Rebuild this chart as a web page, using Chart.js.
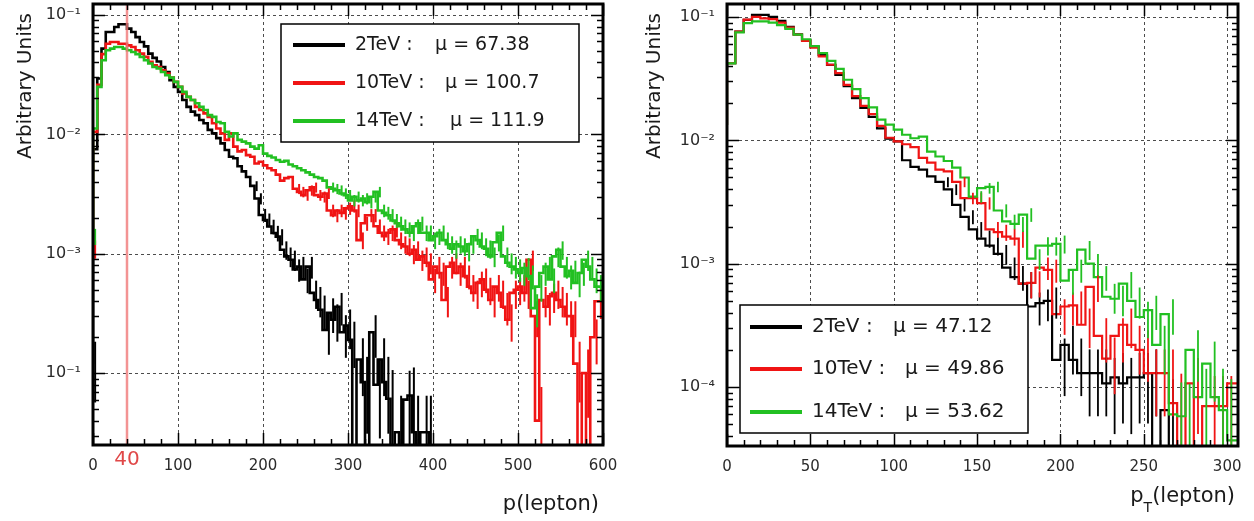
<!DOCTYPE html>
<html>
<head>
<meta charset="utf-8">
<script src="https://cdn.jsdelivr.net/npm/chart.js@4.4.1/dist/chart.umd.min.js"></script>
<style>
html, body { margin: 0; padding: 0; background: #fff; }
#wrap { position: relative; width: 1254px; height: 521px; }
.panel { position: absolute; top: 0; width: 627px; height: 521px; }
</style>
</head>
<body>
<div id="wrap">
  <div class="panel" style="left:0"><canvas id="pChart" width="627" height="521"></canvas></div>
  <div class="panel" style="left:627px"><canvas id="ptChart" width="627" height="521"></canvas></div>
</div>
<script>
// series names and means read from the legends
const energies = ['2TeV', '10TeV', '14TeV'];
const pMeans = ['67.38', '100.7', '111.9'];
const ptMeans = ['47.12', '49.86', '53.62'];
const colors = ['#000000', '#f01414', '#22c022'];

// p(lepton): 5 GeV bins from 0 to 600
const pBinWidth = 5;
const pBlack = [
  0.00012, 0.0075, 0.0294, 0.0523, 0.072, 0.072, 0.0793, 0.0836, 0.0836, 0.0769,
  0.072, 0.0653, 0.0594, 0.0546, 0.0475, 0.0437, 0.0408, 0.0367, 0.0333, 0.0284,
  0.025, 0.0227, 0.0194, 0.017, 0.0155, 0.0145, 0.0132, 0.0124, 0.0109, 0.0102,
  0.0093, 0.0084, 0.0074, 0.0065, 0.0063, 0.0054, 0.0049, 0.0044, 0.0037, 0.0029,
  0.00211, 0.00192, 0.00169, 0.00149, 0.00139, 0.00108, 0.00095, 0.00089, 0.00074, 0.00078,
  0.00061, 0.00078, 0.00047, 0.00041, 0.00034, 0.00023, 0.00032, 0.00028, 0.00036, 0.00022,
  0.00025, 0.00019, 0, 0.00013, 0.000084, 0, 0.00022, 0.00008, 0.00013, 0.000084,
  0.000061, 0, 0.000032, 0, 0.00006, 0.000065, 0.000032, 0, 0.000032, 0.000032,
  0, 0, 0, 0, 0, 0, 0, 0, 0, 0,
  0, 0, 0, 0, 0, 0, 0, 0, 0, 0,
  0, 0, 0, 0, 0, 0, 0, 0, 0, 0,
  0, 0, 0, 0, 0, 0, 0, 0, 0, 0
];
const pRed = [
  0.0011, 0.0105, 0.026, 0.047, 0.0575, 0.0594, 0.0594, 0.0575, 0.0575, 0.0557,
  0.054, 0.0506, 0.0475, 0.0446, 0.0405, 0.0379, 0.0367, 0.0344, 0.0323, 0.0299,
  0.0275, 0.025, 0.022, 0.0206, 0.0194, 0.017, 0.016, 0.015, 0.014, 0.0124,
  0.0112, 0.0102, 0.009, 0.0102, 0.0079, 0.0072, 0.0074, 0.0067, 0.0065, 0.0057,
  0.0059, 0.0055, 0.0052, 0.005, 0.0046, 0.0041, 0.0043, 0.0044, 0.0035, 0.0033,
  0.0031, 0.0034, 0.0036, 0.0031, 0.003, 0.0032, 0.0023, 0.0021, 0.0023, 0.0022,
  0.0024, 0.0025, 0.0023, 0.0013, 0.0018, 0.0021, 0.0021, 0.0017, 0.0015, 0.0014,
  0.0015, 0.0016, 0.0013, 0.0012, 0.00115, 0.001, 0.00108, 0.00089, 0.00095, 0.00084,
  0.00061, 0.00078, 0.00069, 0.00041, 0.00078, 0.00084, 0.00069, 0.00078, 0.00065, 0.00053,
  0.00047, 0.00057, 0.00061, 0.0005, 0.00041, 0.00053, 0.00047, 0.00036, 0.00028, 0.00047,
  0.0005, 0.00053, 0.00047, 0.00089, 0.0003, 0.00004, 0.00041, 0.00036, 0.00044, 0.00047,
  0.00041, 0.00036, 0.0003, 0.0003, 0.00012, 0, 0.0001, 0, 0.0002, 0.0004
];
const pGreen = [
  0.0014, 0.0112, 0.025, 0.0418, 0.0506, 0.0523, 0.054, 0.054, 0.0523, 0.0506,
  0.049, 0.047, 0.0446, 0.0418, 0.0392, 0.0367, 0.0356, 0.0333, 0.0313, 0.0299,
  0.0275, 0.025, 0.0227, 0.0206, 0.0194, 0.0182, 0.017, 0.016, 0.0145, 0.014,
  0.0127, 0.0124, 0.0105, 0.0096, 0.0102, 0.009, 0.0087, 0.0084, 0.0079, 0.0076,
  0.0081, 0.0069, 0.0066, 0.0064, 0.0061, 0.0059, 0.006, 0.0056, 0.0054, 0.0052,
  0.005, 0.0048, 0.0046, 0.0044, 0.0043, 0.0041, 0.0036, 0.0035, 0.0034, 0.0032,
  0.0031, 0.0028, 0.003, 0.0028, 0.0029, 0.0027, 0.003, 0.0033, 0.0023, 0.0022,
  0.0021, 0.0019, 0.0018, 0.0017, 0.0016, 0.0015, 0.0017, 0.0018, 0.0015, 0.0015,
  0.0013, 0.0014, 0.0015, 0.0013, 0.0012, 0.0011, 0.0012, 0.00115, 0.00105, 0.0012,
  0.0014, 0.0013, 0.00115, 0.0011, 0.00095, 0.00125, 0.0015, 0.00095, 0.00084, 0.00078,
  0.00074, 0.00069, 0.00076, 0.00065, 0.00035, 0.00053, 0.00069, 0.00078, 0.00061, 0.00095,
  0.00108, 0.00078, 0.00065, 0.00072, 0.00057, 0.00069, 0.00089, 0.00078, 0.00061, 0.00053
];
const pXTicks = [0, 100, 200, 300, 400, 500, 600];
const pYTicks = [1e-4, 1e-3, 1e-2, 1e-1];
const pYLabels = ['10⁻¹', '10⁻³', '10⁻²', '10⁻¹'];   // bottom label printed as in the original
const pCut = 40;
const pEvents = 30000;   // sample size estimated from the error bar lengths

// pT(lepton): 5 GeV bins from 0 to 310
const ptBinWidth = 5;
const ptBlack = [
  0.0133, 0.0422, 0.076, 0.0946, 0.104, 0.104, 0.1, 0.093, 0.083, 0.0724,
  0.065, 0.0575, 0.0492, 0.0409, 0.034, 0.0275, 0.022, 0.0183, 0.0155, 0.0125,
  0.0103, 0.0098, 0.0069, 0.0061, 0.0058, 0.0051, 0.0046, 0.004, 0.003, 0.0024,
  0.0019, 0.0016, 0.0014, 0.0012, 0.00093, 0.00078, 0.00069, 0.00045, 0.00048, 0.0005,
  0.000166, 0.00022, 0.000166, 0.00013, 0.00013, 0.00013, 0.000107, 0.00012, 0.000107, 0.00012,
  0.00012, 0.00013, 0, 0.000065, 0, 0, 0, 0, 0, 0, 0, 0
];
const ptRed = [
  0.0133, 0.0422, 0.076, 0.095, 0.1, 0.0976, 0.096, 0.09, 0.082, 0.072,
  0.064, 0.0565, 0.048, 0.041, 0.035, 0.0282, 0.0228, 0.019, 0.0163, 0.0131,
  0.0105, 0.0098, 0.0093, 0.0088, 0.0072, 0.0066, 0.0058, 0.0056, 0.0046, 0.0034,
  0.0034, 0.0031, 0.0019, 0.0018, 0.00166, 0.0016, 0.00069, 0.0007, 0.00093, 0.00089,
  0.00039, 0.00045, 0.00046, 0.00032, 0.00065, 0.00026, 0.00017, 0.00026, 0.00032, 0.00022,
  0.0002, 0.00013, 0.00013, 0.00013, 0.000074, 0, 0.000107, 0, 0.00007, 0.00007, 0.00007, 0.000107
];
const ptGreen = [
  0.0133, 0.042, 0.075, 0.089, 0.092, 0.092, 0.09, 0.086, 0.08, 0.072,
  0.066, 0.058, 0.051, 0.044, 0.038, 0.031, 0.026, 0.022, 0.0185, 0.0147,
  0.0134, 0.0122, 0.0111, 0.0104, 0.0107, 0.0081, 0.0074, 0.0068, 0.006, 0.005,
  0.0035, 0.0041, 0.0042, 0.0027, 0.0022, 0.0021, 0.0025, 0.0011, 0.0014, 0.0014,
  0.00145, 0.00073, 0.00089, 0.0013, 0.001, 0.00078, 0.00054, 0.00052, 0.00069, 0.0005,
  0.00037, 0.00042, 0.00022, 0.00039, 0.00006, 0.000058, 0.0002, 0.000083, 0.000155, 0.000083, 0.000065, 0.000037
];
const ptXTicks = [0, 50, 100, 150, 200, 250, 300];
const ptYTicks = [1e-4, 1e-3, 1e-2, 1e-1];
const ptYLabels = ['10⁻⁴', '10⁻³', '10⁻²', '10⁻¹'];
const ptEvents = 25000;

const FONT = '"DejaVu Sans", Verdana, sans-serif';
const EMPTY = 1e-9; // empty bins fall below the log axis

// histogram as step line: one point per left bin edge plus the closing edge
function histPoints(values, width) {
  let pts = values.map((v, i) => ({ x: i * width, y: v > 0 ? v : EMPTY }));
  pts.push({ x: values.length * width, y: pts[pts.length - 1].y });
  return pts;
}

function histDataset(values, width, color, lw, order) {
  return {
    data: histPoints(values, width),
    borderColor: color,
    borderWidth: lw,
    stepped: 'after',
    pointRadius: 0,
    fill: false,
    tension: 0,
    clip: 1,
    order: order
  };
}

function frameLine(ctx, x1, y1, x2, y2) {
  ctx.beginPath();
  ctx.moveTo(x1, y1);
  ctx.lineTo(x2, y2);
  ctx.stroke();
}

// ROOT style frame: dashed grid, thick box, inside ticks, legend box, titles
function rootPlugin(spec) {
  return {
    id: 'rootFrame',
    beforeDatasetsDraw(chart) {
      const ctx = chart.ctx, a = chart.chartArea;
      const xs = chart.scales.x, ys = chart.scales.y;
      ctx.save();
      ctx.strokeStyle = 'rgba(0,0,0,0.7)';
      ctx.lineWidth = 1;
      ctx.setLineDash([3, 3]);
      spec.xTicks.forEach(v => {
        let px = Math.round(xs.getPixelForValue(v)) + 0.5;
        if (px > a.left + 3 && px < a.right - 3) frameLine(ctx, px, a.top, px, a.bottom);
      });
      spec.yTicks.forEach(v => {
        let py = Math.round(ys.getPixelForValue(v)) + 0.5;
        if (py > a.top + 3 && py < a.bottom - 3) frameLine(ctx, a.left, py, a.right, py);
      });
      ctx.restore();
    },
    afterDatasetsDraw(chart) {
      const ctx = chart.ctx, a = chart.chartArea;
      const xs = chart.scales.x, ys = chart.scales.y;
      ctx.save();

      // statistical error bars at bin centres (only where they are visible)
      ctx.save();
      ctx.beginPath();
      ctx.rect(a.left, a.top, a.right - a.left, a.bottom - a.top);
      ctx.clip();
      ctx.lineWidth = spec.errW;
      spec.series.forEach((vals, s) => {
        ctx.strokeStyle = colors[s];
        vals.forEach((v, i) => {
          if (!(v > 0)) return;
          let n = v * spec.events;
          if (n > 120) return;
          let d = v / Math.sqrt(n);
          let cx = xs.getPixelForValue((i + 0.5) * spec.binWidth);
          let lo = v - d > 0 ? ys.getPixelForValue(v - d) : a.bottom;
          let hi = ys.getPixelForValue(v + d);
          frameLine(ctx, cx, lo, cx, hi);
        });
      });
      ctx.restore();

      if (spec.cut !== undefined) {
        let cx = xs.getPixelForValue(spec.cut);
        ctx.strokeStyle = 'rgba(240,120,120,0.8)';
        ctx.lineWidth = 2.5;
        frameLine(ctx, cx, a.top, cx, a.bottom);
      }
      ctx.strokeStyle = '#000';
      ctx.lineWidth = 1.5;
      // x ticks, bottom and top
      for (let v = xs.min; v <= xs.max + 1e-9; v += spec.xMinor) {
        let px = Math.round(xs.getPixelForValue(v)) + 0.5;
        let major = spec.xTicks.indexOf(Math.round(v)) >= 0;
        let len = major ? 12 : 6;
        frameLine(ctx, px, a.bottom, px, a.bottom - len);
        frameLine(ctx, px, a.top, px, a.top + len);
      }
      // y ticks, left and right
      for (let d = -6; d <= 0; d++) {
        for (let m = 1; m <= 9; m++) {
          let v = m * Math.pow(10, d);
          if (v < ys.min || v > ys.max) continue;
          let py = Math.round(ys.getPixelForValue(v)) + 0.5;
          let len = m === 1 ? 12 : 6;
          frameLine(ctx, a.left, py, a.left + len, py);
          frameLine(ctx, a.right, py, a.right - len, py);
        }
      }
      ctx.lineWidth = 3;
      ctx.strokeRect(a.left, a.top, a.right - a.left, a.bottom - a.top);

      // legend
      const lg = spec.legend;
      ctx.fillStyle = '#fff';
      ctx.fillRect(lg.x, lg.y, lg.w, lg.h);
      ctx.lineWidth = 1.5;
      ctx.strokeStyle = '#000';
      ctx.strokeRect(lg.x, lg.y, lg.w, lg.h);
      ctx.font = lg.size + 'px ' + FONT;
      ctx.textBaseline = 'middle';
      ctx.textAlign = 'left';
      energies.forEach((e, i) => {
        let ry = lg.rows[i];
        ctx.strokeStyle = colors[i];
        ctx.lineWidth = 4;
        frameLine(ctx, lg.lineX[0], ry, lg.lineX[1], ry);
        ctx.fillStyle = '#1a1a1a';
        ctx.fillText(e + ' :', lg.textX, ry);
        ctx.fillText('μ = ' + spec.means[i], lg.muX[i], ry);
      });
      ctx.restore();
    },
    afterDraw(chart) {
      const ctx = chart.ctx;
      ctx.save();
      ctx.fillStyle = '#1a1a1a';
      ctx.font = '20px ' + FONT;
      ctx.translate(spec.yTitle.x, spec.yTitle.y);
      ctx.rotate(-Math.PI / 2);
      ctx.textAlign = 'right';
      ctx.textBaseline = 'middle';
      ctx.fillText('Arbitrary Units', 0, 0);
      ctx.restore();

      ctx.save();
      ctx.fillStyle = '#1a1a1a';
      ctx.textBaseline = 'middle';
      ctx.textAlign = 'left';
      const t = spec.xTitle;
      ctx.font = '21px ' + FONT;
      let rest = '(lepton)';
      let restW = ctx.measureText(rest).width;
      let pW = ctx.measureText('p').width;
      let subW = 0;
      if (t.sub) {
        ctx.font = '14px ' + FONT;
        subW = ctx.measureText(t.sub).width;
      }
      let x0 = t.right - restW - subW - pW;
      ctx.font = '21px ' + FONT;
      ctx.fillText('p', x0, t.y);
      if (t.sub) {
        ctx.font = '14px ' + FONT;
        ctx.fillText(t.sub, x0 + pW, t.y + 11);
      }
      ctx.font = '21px ' + FONT;
      ctx.fillText(rest, x0 + pW + subW, t.y);

      if (spec.cut !== undefined) {
        ctx.fillStyle = '#e04848';
        ctx.font = '20px ' + FONT;
        ctx.textAlign = 'center';
        ctx.fillText(String(spec.cut), chart.scales.x.getPixelForValue(spec.cut), 460);
      }
      ctx.restore();
    }
  };
}

function makeChart(canvasId, spec) {
  return new Chart(document.getElementById(canvasId), {
    type: 'line',
    data: {
      datasets: [
        histDataset(spec.series[0], spec.binWidth, colors[0], spec.lw, 3),
        histDataset(spec.series[1], spec.binWidth, colors[1], spec.lw, 2),
        histDataset(spec.series[2], spec.binWidth, colors[2], spec.lw, 1)
      ]
    },
    options: {
      responsive: false,
      animation: false,
      events: [],
      layout: { padding: { left: 0, right: spec.padRight, top: 4, bottom: 0 } },
      plugins: { legend: { display: false }, tooltip: { enabled: false } },
      scales: {
        x: {
          type: 'linear',
          min: spec.xMin,
          max: spec.xMax,
          grid: { display: false, drawTicks: false },
          border: { display: false },
          afterBuildTicks: s => { s.ticks = spec.xTicks.map(v => ({ value: v })); },
          afterFit: s => {
            s.height = spec.xAxisHeight;
            s.paddingLeft = 0;
            s.paddingRight = 0;
          },
          ticks: {
            autoSkip: false,
            maxRotation: 0,
            padding: 12,
            color: '#2a2a2a',
            font: { family: FONT, size: 15 },
            callback: v => String(v)
          }
        },
        y: {
          type: 'logarithmic',
          min: spec.yMin,
          max: spec.yMax,
          grid: { display: false, drawTicks: false },
          border: { display: false },
          afterBuildTicks: s => { s.ticks = spec.yTicks.map(v => ({ value: v })); },
          afterFit: s => {
            s.width = spec.yAxisWidth;
            s.paddingTop = 0;
            s.paddingBottom = 0;
          },
          ticks: {
            autoSkip: false,
            padding: 12,
            color: '#2a2a2a',
            font: { family: FONT, size: 16 },
            callback: (v, i) => spec.yLabels[i]
          }
        }
      }
    },
    plugins: [rootPlugin(spec)]
  });
}

makeChart('pChart', {
  series: [pBlack, pRed, pGreen],
  binWidth: pBinWidth,
  events: pEvents,
  lw: 2.6, errW: 2,
  xMin: 0, xMax: 600, xTicks: pXTicks, xMinor: 20,
  yMin: 2.5e-5, yMax: 0.1236, yTicks: pYTicks, yLabels: pYLabels,
  yAxisWidth: 93, xAxisHeight: 76, padRight: 24,
  cut: pCut,
  means: pMeans,
  legend: { x: 281, y: 24, w: 298, h: 118, rows: [45, 83, 121], lineX: [293, 345], textX: 355, muX: [435, 445, 450], size: 19 },
  yTitle: { x: 26, y: 13 },
  xTitle: { right: 599, y: 505, sub: '' }
});

makeChart('ptChart', {
  series: [ptBlack, ptRed, ptGreen],
  binWidth: ptBinWidth,
  events: ptEvents,
  lw: 2.2, errW: 1.8,
  xMin: 0, xMax: 306.5, xTicks: ptXTicks, xMinor: 10,
  yMin: 3.33e-5, yMax: 0.1274, yTicks: ptYTicks, yLabels: ptYLabels,
  yAxisWidth: 100, xAxisHeight: 75, padRight: 16,
  means: ptMeans,
  legend: { x: 113, y: 305, w: 288, h: 128, rows: [327, 369, 412], lineX: [123, 175], textX: 185, muX: [266, 278, 278], size: 20 },
  yTitle: { x: 28, y: 13 },
  xTitle: { right: 608, y: 497, sub: 'T' }
});
</script>
</body>
</html>
